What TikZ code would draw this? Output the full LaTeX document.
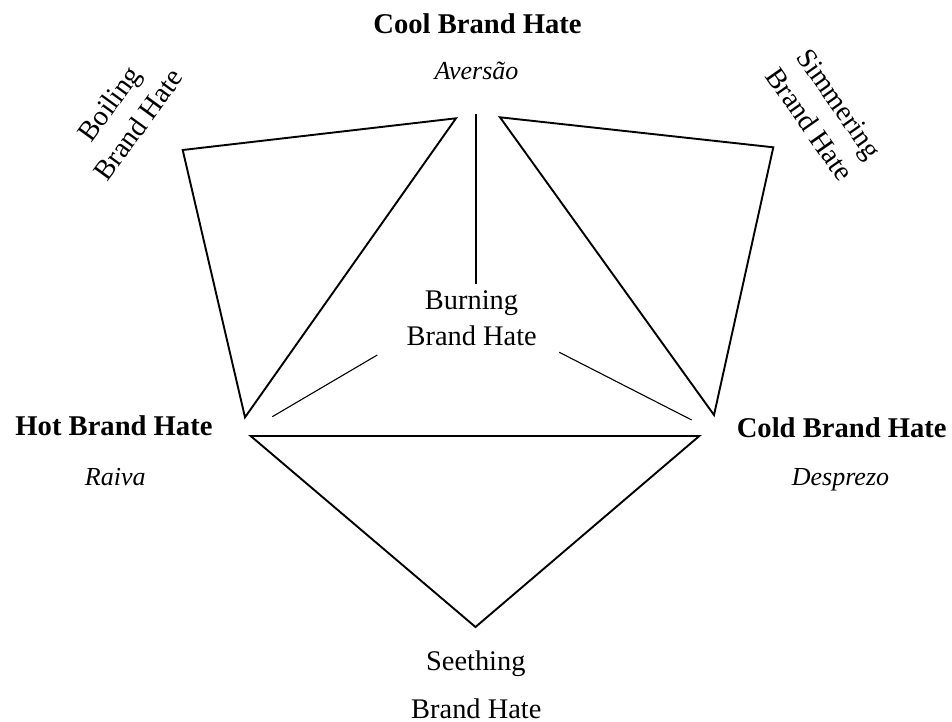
\documentclass[tikz,border=0pt]{standalone}
\usepackage{fontspec}
\setmainfont{Liberation Serif}
\begin{document}
\begin{tikzpicture}[x=1pt,y=-1pt,
  edge/.style={line width=1.9pt,line join=miter},
  spoke/.style={line width=1.1pt},
  label/.style={inner sep=0pt,font=\fontsize{28.4}{36}\selectfont,align=center},
  boldlabel/.style={label,font=\fontsize{28.6}{36}\selectfont\bfseries},
  emotion/.style={inner sep=0pt,font=\fontsize{26}{32}\selectfont\itshape},
  sidelabel/.style={label,anchor=center}]
\useasboundingbox (0,0) rectangle (952,722);

% triangle corners
\coordinate (L1) at (182.7,150);
\coordinate (L2) at (456,118.3);
\coordinate (L3) at (245,417.3);
\coordinate (R1) at (500,117.3);
\coordinate (R2) at (773.3,147.3);
\coordinate (R3) at (714,415);
\coordinate (B1) at (250.7,436);
\coordinate (B2) at (699.3,436);
\coordinate (B3) at (475.5,627);

% spoke ends around the centre
\coordinate (S0) at (476,114);
\coordinate (S1) at (476,284);
\coordinate (S2) at (272.3,416.7);
\coordinate (S3) at (377.3,355);
\coordinate (S4) at (559.3,352.3);
\coordinate (S5) at (691.7,420);

% three triangles
\draw[edge] (L1) -- (L2) -- (L3) -- cycle;
\draw[edge] (R1) -- (R2) -- (R3) -- cycle;
\draw[edge] (B1) -- (B2) -- (B3) -- cycle;

% thin spokes
\draw[spoke] (S0) -- (S1);
\draw[spoke] (S2) -- (S3);
\draw[spoke] (S4) -- (S5);

% corner labels
\node[boldlabel,anchor=base] (cool) at (477.5,33.3) {Cool Brand Hate};
\node[emotion,anchor=base] (aversao) at (476.5,80) {Aversão};
\node[boldlabel,anchor=base] (hot) at (114,435) {Hot Brand Hate};
\node[emotion,anchor=base] (raiva) at (115.3,485) {Raiva};
\node[boldlabel,anchor=base] (cold) at (841.7,437.3) {Cold Brand Hate};
\node[emotion,anchor=base] (desprezo) at (840.5,485) {Desprezo};

% inner and side labels
\node[label,anchor=base] (burn1) at (471.5,309.3) {Burning};
\node[label,anchor=base] (burn2) at (471.7,345) {Brand Hate};
\node[label,anchor=base] (seeth1) at (475.8,670) {Seething};
\node[label,anchor=base] (seeth2) at (476.3,718) {Brand Hate};
\node[sidelabel,rotate=54] (boil) at (123.5,114) {Boiling\\Brand Hate};
\node[sidelabel,rotate=-55] (simmer) at (824.5,114) {Simmering\\Brand Hate};
\end{tikzpicture}
\end{document}
